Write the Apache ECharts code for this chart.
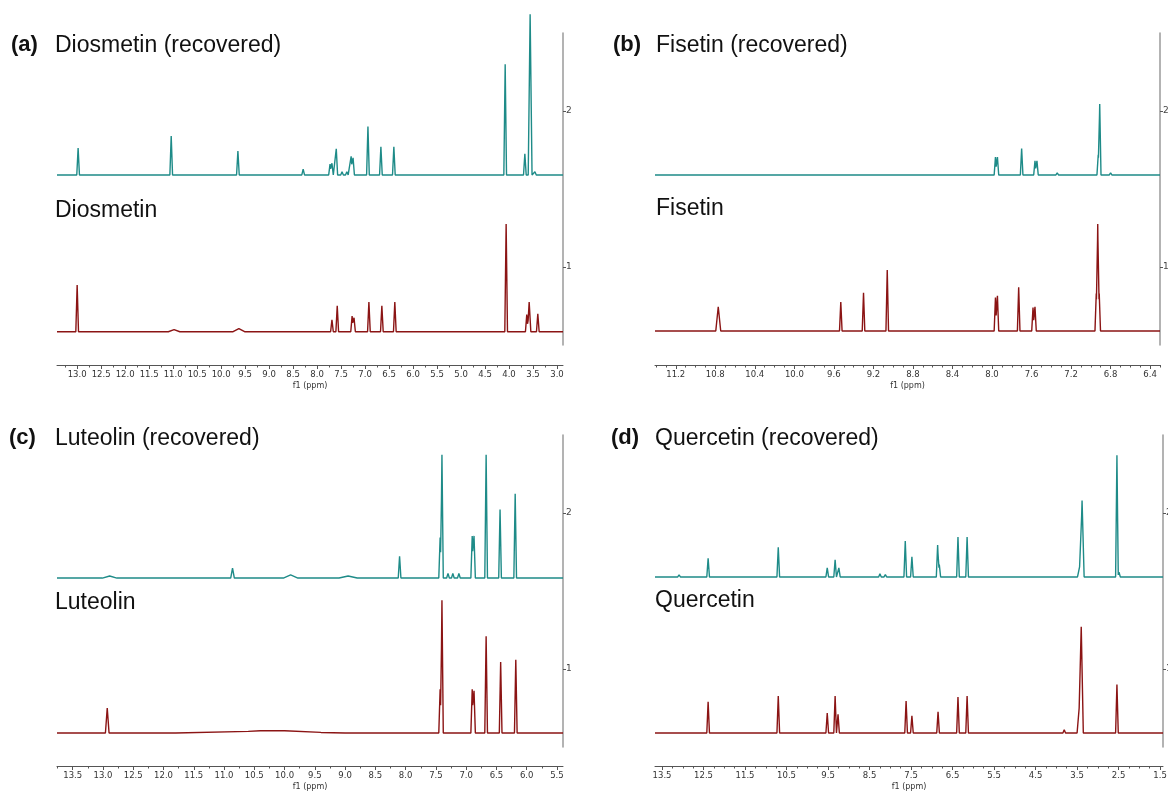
<!DOCTYPE html>
<html>
<head>
<meta charset="utf-8">
<script src="https://cdn.jsdelivr.net/npm/echarts@6/dist/echarts.min.js"></script>
<style>html,body{margin:0;padding:0;background:#fff;}#c{width:1168px;height:791px;}</style>
</head>
<body>
<div id="c"></div>
<script>
// ---- Labels ----
const panelTags = ['(a)', '(b)', '(c)', '(d)'];
const recoveredNames = ['Diosmetin (recovered)', 'Fisetin (recovered)', 'Luteolin (recovered)', 'Quercetin (recovered)'];
const referenceNames = ['Diosmetin', 'Fisetin', 'Luteolin', 'Quercetin'];

// ---- Tick labels (ppm) ----
const ticksA = [13.0,12.5,12.0,11.5,11.0,10.5,10.0,9.5,9.0,8.5,8.0,7.5,7.0,6.5,6.0,5.5,5.0,4.5,4.0,3.5,3.0];
const ticksB = [11.2,10.8,10.4,10.0,9.6,9.2,8.8,8.4,8.0,7.6,7.2,6.8,6.4];
const ticksC = [13.5,13.0,12.5,12.0,11.5,11.0,10.5,10.0,9.5,9.0,8.5,8.0,7.5,7.0,6.5,6.0,5.5];
const ticksD = [13.5,12.5,11.5,10.5,9.5,8.5,7.5,6.5,5.5,4.5,3.5,2.5,1.5];
const yTicks = [1, 2];

// ---- Spectra: [ppm, intensity, (optional line half-width ppm for broad signals)] ----
const diosmetinRecovered = [
  [12.98,0.173],[11.04,0.25],[9.65,0.154],[8.29,0.038],[7.73,0.07],[7.69,0.075],
  [7.60,0.167],[7.48,0.02],[7.38,0.02],[7.29,0.12],[7.25,0.11],[6.94,0.31],
  [6.67,0.18],[6.40,0.18],[4.08,0.71],[3.67,0.135],[3.56,1.03,0.04],[3.46,0.02]
];
const diosmetinReference = [
  [13.0,0.30],[10.98,0.013,0.12],[9.63,0.02,0.12],[7.69,0.077],[7.58,0.167],
  [7.27,0.10],[7.23,0.09],[6.92,0.19],[6.65,0.167],[6.38,0.19],[4.33,0.008],
  [4.06,0.69],[3.63,0.11],[3.58,0.19,0.035],[3.40,0.115]
];
const fisetinRecovered = [
  [8.15,0.006],[7.965,0.115],[7.945,0.115],[7.70,0.17],[7.565,0.09],[7.545,0.09],
  [7.34,0.013],[6.925,0.13],[6.91,0.455],[6.80,0.013]
];
const fisetinReference = [
  [10.77,0.155,0.025],[9.53,0.186],[9.30,0.244],[9.06,0.39],[7.965,0.215],[7.945,0.225],
  [7.73,0.28],[7.585,0.15],[7.565,0.155],[6.945,0.24],[6.93,0.686],[6.915,0.24]
];
const luteolinRecovered = [
  [12.89,0.013,0.12],[10.86,0.064,0.03],[9.90,0.02,0.12],[8.95,0.013,0.15],[8.10,0.14],
  [7.43,0.26],[7.40,0.79],[7.30,0.03],[7.22,0.03],[7.12,0.03],[6.90,0.27],[6.87,0.27],
  [6.67,0.79],[6.44,0.44],[6.19,0.54]
];
const luteolinReference = [
  [12.93,0.16,0.03],[10.4,0.012,1.4],[10.0,0.006,0.6],[7.43,0.28],[7.40,0.85],[6.90,0.28],[6.87,0.27],
  [6.67,0.62],[6.43,0.455],[6.18,0.47]
];
const quercetinRecovered = [
  [13.09,0.013],[12.39,0.12],[10.70,0.19],[9.52,0.058],[9.33,0.11],[9.24,0.058],
  [8.25,0.02],[8.12,0.015],[7.64,0.23],[7.48,0.13],[6.86,0.205],[6.82,0.08],
  [6.37,0.256],[6.15,0.256],[3.44,0.064,0.05],[3.38,0.49,0.05],[2.54,0.78],[2.49,0.03]
];
const quercetinReference = [
  [12.39,0.2],[10.70,0.237],[9.52,0.128],[9.33,0.237],[9.26,0.12],[7.62,0.205],
  [7.48,0.11],[6.85,0.135],[6.37,0.23],[6.15,0.237],[3.81,0.02],
  [3.45,0.16,0.05],[3.40,0.68,0.05],[2.54,0.31]
];
const recoveredBaselines = [1.59, 1.59, 1.583, 1.59];
const referenceBaselines = [0.585, 0.59, 0.59, 0.59];

// ---- Layout ----
const panels = [
  {grid:{left:57, top:33, width:506, height:312}, min:2.875, max:13.42, ticks:ticksA, minorSplit:2, hw:0.028,
   rec:diosmetinRecovered, ref:diosmetinReference, tagX:11, nameX:55, titleY:47, refY:212, offset:20},
  {grid:{left:655, top:33, width:505, height:312}, min:6.30, max:11.41, ticks:ticksB, minorSplit:4, hw:0.013,
   rec:fisetinRecovered, ref:fisetinReference, tagX:613, nameX:656, titleY:47, refY:210, offset:20},
  {grid:{left:57, top:435, width:506, height:312}, min:5.40, max:13.76, ticks:ticksC, minorSplit:2, hw:0.022,
   rec:luteolinRecovered, ref:luteolinReference, tagX:9, nameX:55, titleY:440, refY:604, offset:19},
  {grid:{left:655, top:435, width:508, height:312}, min:1.43, max:13.67, ticks:ticksD, minorSplit:4, hw:0.032,
   rec:quercetinRecovered, ref:quercetinReference, tagX:611, nameX:655, titleY:440, refY:602, offset:19}
];

const TEAL = '#1e8b88';
const RED = '#8b1414';

function spectrum(peaks, base, hw, xmin, xmax) {
  const xs = new Set([xmin, xmax]);
  peaks.forEach(p => { const w = p[2] || hw; xs.add(p[0] + w); xs.add(p[0]); xs.add(p[0] - w); });
  const arr = Array.from(xs).filter(x => x >= xmin && x <= xmax).sort((a, b) => b - a);
  return arr.map(x => {
    let y = base;
    peaks.forEach(p => {
      const w = p[2] || hw;
      const d = Math.abs(x - p[0]);
      if (d < w) y += p[1] * (1 - d / w);
    });
    return [x, y];
  });
}

function minorTicks(ticks, split, min, max) {
  const step = Math.abs(ticks[0] - ticks[1]) / split;
  const out = [];
  const start = ticks[0] + step * Math.floor((max - ticks[0]) / step + 1e-9);
  for (let v = start; v >= min - 1e-9; v -= step) {
    const r = Math.round(v * 1000) / 1000;
    if (r <= max && r >= min) out.push(r);
  }
  return out;
}

const grids = [], xAxes = [], yAxes = [], series = [], graphics = [];
panels.forEach((p, i) => {
  grids.push(Object.assign({containLabel: false, outerBoundsMode: 'none'}, p.grid));
  xAxes.push({
    type: 'value', gridIndex: i, inverse: true, min: p.min, max: p.max,
    position: 'bottom', offset: p.offset,
    name: 'f1 (ppm)', nameLocation: 'middle', nameGap: 17,
    nameTextStyle: {fontSize: 8, color: '#333', fontFamily: 'DejaVu Sans'},
    axisLine: {show: true, lineStyle: {color: '#555', width: 1}},
    axisTick: {show: true, length: 4, lineStyle: {color: '#555'}, customValues: p.ticks},
    axisLabel: {show: true, fontSize: 8.5, color: '#333', margin: 5, fontFamily: 'DejaVu Sans',
      customValues: p.ticks, formatter: v => Number(v).toFixed(1)},
    splitLine: {show: false}
  });
  xAxes.push({
    type: 'value', gridIndex: i, inverse: true, min: p.min, max: p.max,
    position: 'bottom', offset: p.offset,
    axisLine: {show: false},
    axisTick: {show: true, length: 2.5, lineStyle: {color: '#555'}, customValues: minorTicks(p.ticks, p.minorSplit, p.min, p.max)},
    axisLabel: {show: false},
    splitLine: {show: false}
  });
  yAxes.push({
    type: 'value', gridIndex: i, position: 'right', min: 0.5, max: 2.5,
    axisLine: {show: true, lineStyle: {color: '#9a9a9a', width: 1.5}},
    axisTick: {show: true, length: 3, lineStyle: {color: '#555'}, customValues: yTicks},
    axisLabel: {show: true, fontSize: 9, color: '#444', margin: 3, fontFamily: 'DejaVu Sans', customValues: yTicks},
    splitLine: {show: false}
  });
  series.push({
    type: 'line', xAxisIndex: i * 2, yAxisIndex: i, showSymbol: false, clip: false, silent: true,
    lineStyle: {color: TEAL, width: 1.4}, data: spectrum(p.rec, recoveredBaselines[i], p.hw, p.min, p.max)
  });
  series.push({
    type: 'line', xAxisIndex: i * 2, yAxisIndex: i, showSymbol: false, clip: false, silent: true,
    lineStyle: {color: RED, width: 1.4}, data: spectrum(p.ref, referenceBaselines[i], p.hw, p.min, p.max)
  });
  graphics.push({type: 'text', left: p.tagX, top: p.titleY - 13,
    style: {text: panelTags[i], font: 'bold 22px "Liberation Sans", Arial, sans-serif', fill: '#111'}});
  graphics.push({type: 'text', left: p.nameX, top: p.titleY - 13,
    style: {text: recoveredNames[i], font: '23px "Liberation Sans", Arial, sans-serif', fill: '#111'}});
  graphics.push({type: 'text', left: p.nameX, top: p.refY - 13,
    style: {text: referenceNames[i], font: '23px "Liberation Sans", Arial, sans-serif', fill: '#111'}});
});

const chart = echarts.init(document.getElementById('c'), null, {renderer: 'canvas'});
chart.setOption({
  backgroundColor: '#fff',
  animation: false,
  grid: grids,
  xAxis: xAxes,
  yAxis: yAxes,
  series: series,
  graphic: graphics
});
</script>
</body>
</html>
